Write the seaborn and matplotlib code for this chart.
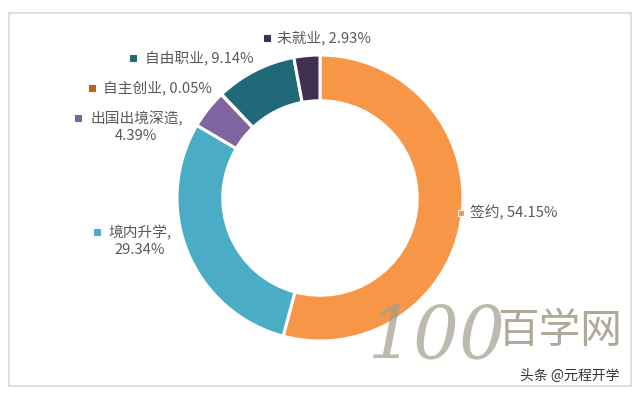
import matplotlib
matplotlib.use("Agg")
import matplotlib.pyplot as plt
import seaborn as sns
from matplotlib.patches import Rectangle

# 就业去向数据
labels = ["签约", "境内升学", "出国出境深造", "自主创业", "自由职业", "未就业"]
values = [54.15, 29.34, 4.39, 0.05, 9.14, 2.93]
colors = ["#F79646", "#4BACC6", "#8064A2", "#C0620F", "#216978", "#403152"]
label_texts = ["签约, 54.15%", "境内升学,\n29.34%", "出国出境深造,\n4.39%",
               "自主创业, 0.05%", "自由职业, 9.14%", "未就业, 2.93%"]

sns.set_theme(style="white")
plt.rcParams['font.family'] = ['Noto Sans CJK SC', 'DejaVu Sans']

W, H = 640, 396
fig = plt.figure(figsize=(6.4, 3.96), dpi=100)
fig.patch.set_facecolor("white")

# 外框
fig.patches.append(Rectangle((9 / W, 1 - 386 / H), 622 / W, 373 / H,
                             transform=fig.transFigure, fill=False,
                             edgecolor="#D9D9D9", linewidth=1.2))

# 圆环
cx, cy, r = 320, 198, 143
ax = fig.add_axes([(cx - r) / W, (H - cy - r) / H, 2 * r / W, 2 * r / H])
ax.pie(values, colors=colors, startangle=90, counterclock=False,
       wedgeprops=dict(width=0.32, edgecolor="white", linewidth=2.2))
ax.set_xlim(-1, 1)
ax.set_ylim(-1, 1)
ax.set_aspect("equal")
ax.axis("off")

# 标签 (marker x, text x, 首行 y)
pos = [(461, 470, 213), (97, 108, 232), (78, 90, 118),
       (92, 103, 88), (133, 145, 58), (267, 277, 38)]
line_gap = 18.5
for (mx, tx, ty), txt, c in zip(pos, label_texts, colors):
    nlines = txt.count("\n") + 1
    yc = ty + (nlines - 1) * line_gap / 2
    fig.text(tx / W, 1 - yc / H, txt, ha="left", va="center",
             multialignment="center", fontsize=10.6, color="#595959",
             linespacing=1.25)
    ec = "white" if mx == 461 else c
    fig.patches.append(Rectangle(((mx - 3) / W, 1 - (ty + 3) / H), 6 / W, 6 / H,
                                 transform=fig.transFigure, facecolor=c,
                                 edgecolor=ec, linewidth=0.8, zorder=5))

# 水印
fig.text(437 / W, 1 - 338 / H, "100", ha="center", va="center", fontsize=52,
         color="#A39C8C", alpha=0.7, style="italic", family="DejaVu Serif")
fig.text(560 / W, 1 - 331 / H, "百学网", ha="center", va="center", fontsize=30,
         color="#B0A999", family=['Noto Sans CJK SC'])
fig.text(570 / W, 1 - 376 / H, "头条 @元程开学", ha="center", va="center",
         fontsize=10, color="#333333")

fig.savefig("out.png", dpi=100, facecolor="white")
